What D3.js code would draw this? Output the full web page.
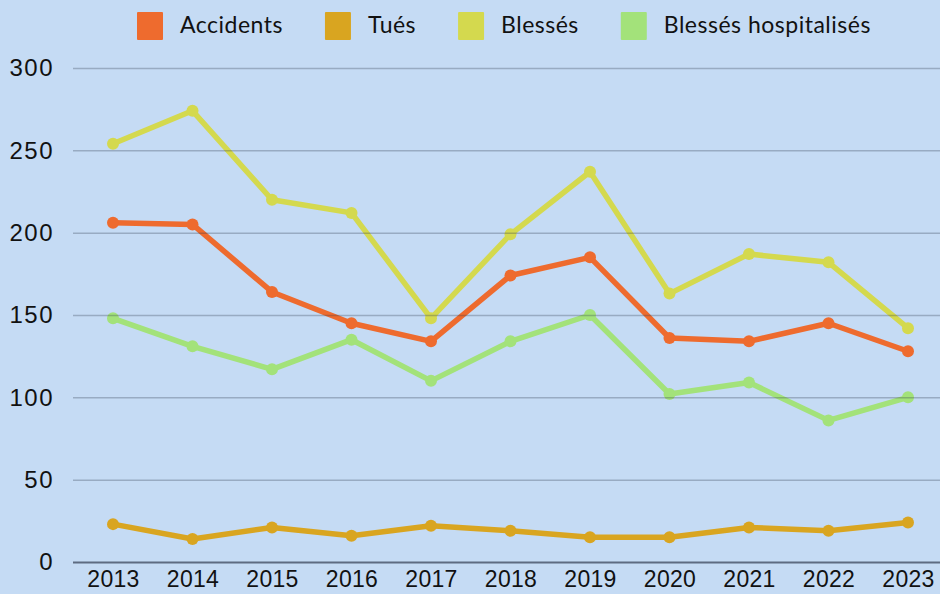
<!DOCTYPE html>
<html>
<head>
<meta charset="utf-8">
<script src="https://cdn.jsdelivr.net/npm/d3@7"></script>
<style>
  html, body { margin: 0; padding: 0; background: #c5dbf4; }
  svg { display: block; font-family: Lato, 'Noto Sans', sans-serif; }
</style>
</head>
<body>
<div id="chart"></div>
<script>
// données
const years = [2013, 2014, 2015, 2016, 2017, 2018, 2019, 2020, 2021, 2022, 2023]
const accidents = [206, 205, 164, 145, 134, 174, 185, 136, 134, 145, 128]
const tues = [23, 14, 21, 16, 22, 19, 15, 15, 21, 19, 24]
const blesses = [254, 274, 220, 212, 148, 199, 237, 163, 187, 182, 142]
const hospitalises = [148, 131, 117, 135, 110, 134, 150, 102, 109, 86, 100]
const seriesNames = ['Accidents', 'Tués', 'Blessés', 'Blessés hospitalisés']
const yTicks = [0, 50, 100, 150, 200, 250, 300]

const width = 940
const height = 594
const colors = ['#ee6b2e', '#d9a520', '#d4d94e', '#a3e27a']
const series = [accidents, tues, blesses, hospitalises].map((values, i) => ({
  name: seriesNames[i],
  color: colors[i],
  values: values.map((v, j) => ({ year: years[j], value: v }))
}))

const svg = d3.select('#chart')
  .append('svg')
  .attr('width', width)
  .attr('height', height)

svg.append('rect')
  .attr('width', width)
  .attr('height', height)
  .attr('fill', '#c5dbf4')

const x = d3.scalePoint()
  .domain(years)
  .range([113, 908])
const y = d3.scaleLinear()
  .domain([0, 300])
  .range([562, 68])

// courbes
const line = d3.line()
  .x(d => x(d.year))
  .y(d => y(d.value))

const g = svg.append('g')
series.forEach(s => {
  g.append('path')
    .datum(s.values)
    .attr('d', line)
    .attr('fill', 'none')
    .attr('stroke', s.color)
    .attr('stroke-width', 5.5)
    .attr('stroke-linejoin', 'round')
  g.selectAll(null)
    .data(s.values)
    .enter()
    .append('circle')
    .attr('cx', d => x(d.year))
    .attr('cy', d => y(d.value))
    .attr('r', 6)
    .attr('fill', s.color)
})

// grille par-dessus
const yAxis = d3.axisLeft(y)
  .tickValues(yTicks)
  .tickSize(-(width - 73))
  .tickPadding(19)
const ya = svg.append('g')
  .attr('transform', 'translate(73,0)')
  .call(yAxis)
ya.select('.domain').remove()
ya.selectAll('.tick line')
  .attr('stroke', d => d === 0 ? 'rgba(50,60,80,0.7)' : 'rgba(50,60,80,0.3)')
  .attr('stroke-width', d => d === 0 ? 2 : 1.5)
ya.selectAll('.tick text')
  .attr('fill', '#111')
  .style('font-size', '24px')
  .style('letter-spacing', '1.5px')

const xAxis = d3.axisBottom(x)
  .tickSize(0)
  .tickPadding(9)
const xa = svg.append('g')
  .attr('transform', 'translate(0,562)')
  .call(xAxis)
xa.select('.domain').remove()
xa.selectAll('.tick text')
  .attr('fill', '#111')
  .style('font-size', '23px')
  .style('letter-spacing', '0.3px')

// légende
const legend = svg.append('g')
let lx = 137
series.forEach(s => {
  const item = legend.append('g').attr('transform', `translate(${lx},0)`)
  item.append('rect')
    .attr('x', 0)
    .attr('y', 12)
    .attr('width', 26)
    .attr('height', 28)
    .attr('rx', 1)
    .attr('fill', s.color)
  const t = item.append('text')
    .attr('x', 43)
    .attr('y', 33)
    .attr('fill', '#111')
    .style('font-size', '23px')
    .style('letter-spacing', '0.5px')
    .text(s.name)
  lx += 43 + t.node().getComputedTextLength() + 42
})
</script>
</body>
</html>
